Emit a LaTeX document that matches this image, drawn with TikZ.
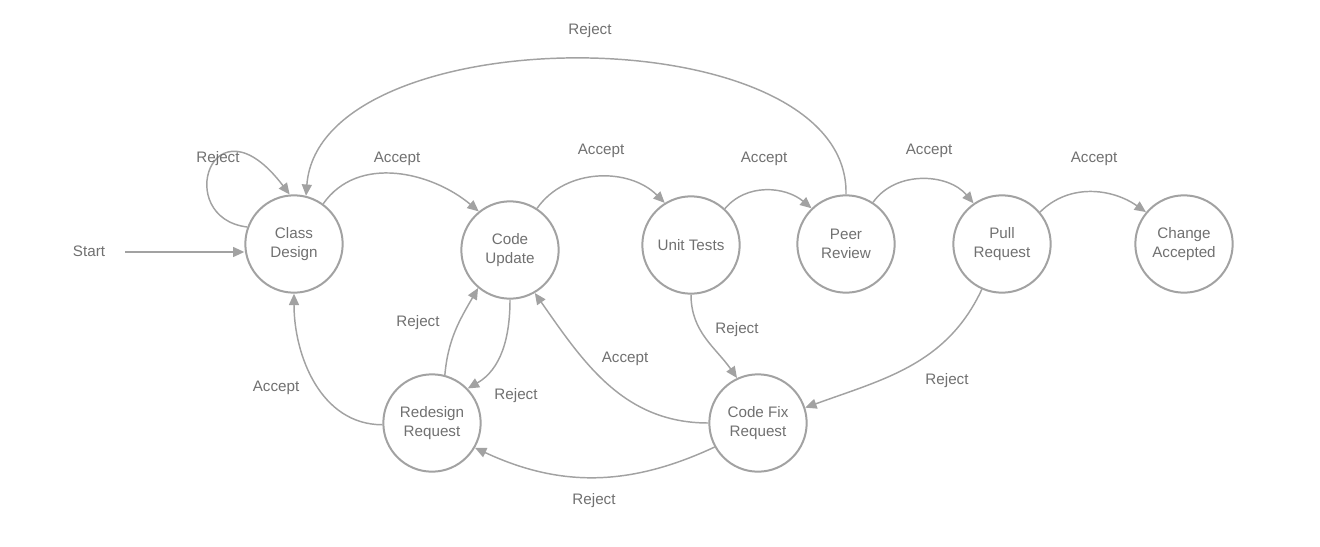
\documentclass[tikz,border=0pt]{standalone}
\usepackage{fontspec}
\setmainfont{Liberation Sans}
\definecolor{linegray}{RGB}{162,162,162}
\definecolor{textgray}{RGB}{112,112,112}
\usetikzlibrary{arrows.meta}

\begin{document}
\begin{tikzpicture}[x=0.75pt, y=-0.75pt,
    statenode/.style={circle, draw=linegray, line width=1.5pt, minimum size=73pt, inner sep=0pt, align=center, text=textgray, font=\fontsize{11.4}{14.2}\selectfont},
    flow/.style={draw=linegray, line width=1.1pt, -{Triangle[length=8.5pt, width=7.5pt]}},
    edgelabel/.style={text=textgray, font=\fontsize{11.4}{14.2}\selectfont}]
  \useasboundingbox (0,0) rectangle (1320,546);

  % States
  \node[statenode] (design)   at (294,244) {Class\\Design};
  \node[statenode] (update)   at (510,250) {Code\\Update};
  \node[statenode] (tests)    at (691,245) {Unit Tests};
  \node[statenode] (review)   at (846,244) {Peer\\Review};
  \node[statenode] (pull)     at (1002,244) {Pull\\Request};
  \node[statenode] (accepted) at (1184,244) {Change\\Accepted};
  \node[statenode] (redesign) at (432,423) {Redesign\\Request};
  \node[statenode] (codefix)  at (758,423) {Code Fix\\Request};

  % Start
  \node[edgelabel] (start) at (89,251) {Start};
  \coordinate (startpt) at (125,252);
  \draw[flow] (startpt) -- (startpt -| design.west);

  % Accept path along the top row
  \draw[flow] (design.54) to[out=55, in=140] (update.129);
  \draw[flow] (update.57) to[out=55, in=135] (tests.122);
  \draw[flow] (tests.47) to[out=50, in=140] (review.134);
  \draw[flow] (review.57) to[out=55, in=130] (pull.125);
  \draw[flow] (pull.40) to[out=45, in=145] (accepted.140);

  % Rejects
  \draw[flow] (design.160) .. controls (172,218) and (212,92) .. (design.95);
  \draw[flow] (review.north) .. controls (850,14) and (320,14) .. (design.76);
  \draw[flow] (tests.south) to[out=-90, in=125] (codefix.115);
  \draw[flow] (pull.246) to[out=-115, in=20] (codefix.18);
  \draw[flow] (codefix.209) to[out=-155, in=-25] (redesign.330);
  \draw[flow] (redesign.75) to[out=85, in=-120] (update.230);
  \draw[flow] (update.south) to[out=-90, in=30] (redesign.44);

  % Accepts back to earlier states
  \draw[flow] (codefix.west) to[out=180, in=-55] (update.300);
  \draw[flow] (redesign.182) to[out=180, in=-90] (design.south);

  % Edge labels
  \node[edgelabel] (l1)  at (218,159) {Reject};
  \node[edgelabel] (l2)  at (397,159) {Accept};
  \node[edgelabel] (l3)  at (601,151) {Accept};
  \node[edgelabel] (l4)  at (764,159) {Accept};
  \node[edgelabel] (l5)  at (590,31)  {Reject};
  \node[edgelabel] (l6)  at (929,151) {Accept};
  \node[edgelabel] (l7)  at (1094,159) {Accept};
  \node[edgelabel] (l8)  at (737,330) {Reject};
  \node[edgelabel] (l9)  at (947,381) {Reject};
  \node[edgelabel] (l10) at (625,359) {Accept};
  \node[edgelabel] (l11) at (594,501) {Reject};
  \node[edgelabel] (l12) at (276,388) {Accept};
  \node[edgelabel] (l13) at (418,323) {Reject};
  \node[edgelabel] (l14) at (516,396) {Reject};
\end{tikzpicture}
\end{document}
